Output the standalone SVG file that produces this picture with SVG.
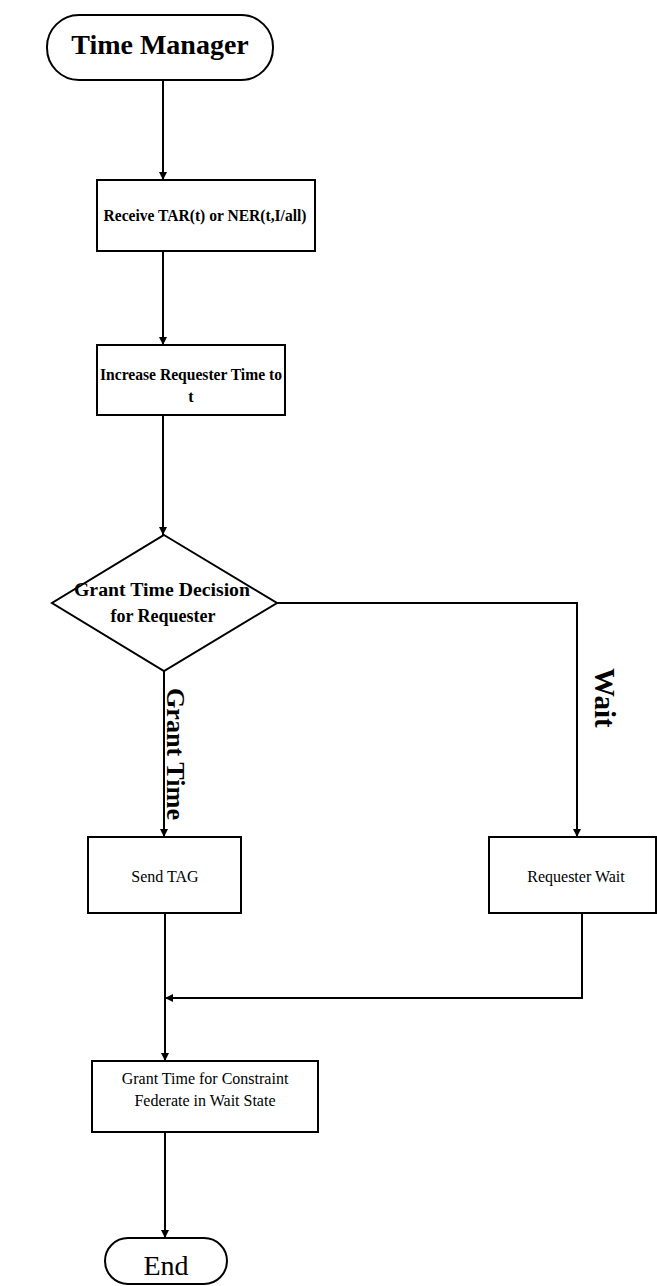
<svg xmlns="http://www.w3.org/2000/svg" width="657" height="1286" viewBox="0 0 657 1286">
  <style>
    .shape { fill: #ffffff; stroke: #000000; stroke-width: 2; }
    .wire { fill: none; stroke: #000000; stroke-width: 2; }
    .t { font-family: "Liberation Serif", "Times New Roman", serif; fill: #000000; text-anchor: middle; }
    .big { font-size: 28px; font-weight: bold; }
    .mid { font-size: 16px; font-weight: bold; }
    .plain { font-size: 16px; }
    .lbl { font-family: "Liberation Serif", "Times New Roman", serif; fill: #000000; font-weight: bold; }
  </style>
  <defs>
    <marker id="arrow" viewBox="0 0 10 10" refX="10" refY="5" markerWidth="8" markerHeight="9" orient="auto" markerUnits="userSpaceOnUse">
      <path d="M0,0 L10,5 L0,10 z" fill="#000000"/>
    </marker>
  </defs>
  <rect width="657" height="1286" fill="#ffffff"/>

  <!-- connectors -->
  <g id="connectors">
    <line class="wire" x1="163" y1="80" x2="163" y2="180" marker-end="url(#arrow)"/>
    <line class="wire" x1="163" y1="251" x2="163" y2="345" marker-end="url(#arrow)"/>
    <line class="wire" x1="163" y1="415" x2="163" y2="535" marker-end="url(#arrow)"/>
    <line class="wire" x1="164" y1="671" x2="164" y2="837" marker-end="url(#arrow)"/>
    <polyline class="wire" points="277,603 577,603 577,837" marker-end="url(#arrow)"/>
    <polyline class="wire" points="582,913 582,998 165,998" marker-end="url(#arrow)"/>
    <line class="wire" x1="165" y1="913" x2="165" y2="1061" marker-end="url(#arrow)"/>
    <line class="wire" x1="165" y1="1132" x2="165" y2="1238" marker-end="url(#arrow)"/>
    <text class="lbl" font-size="25" transform="translate(167,688) rotate(90)" textLength="132" lengthAdjust="spacingAndGlyphs">Grant Time</text>
    <text class="lbl" font-size="29" transform="translate(595,668) rotate(90)">Wait</text>
  </g>

  <g id="start">
    <rect class="shape" x="47" y="15" width="226" height="65" rx="32" ry="32"/>
    <text class="t big" x="160" y="54">Time Manager</text>
  </g>

  <g id="receive">
    <rect class="shape" x="97" y="180" width="218" height="71"/>
    <text class="t mid" x="205" y="221" textLength="203" lengthAdjust="spacingAndGlyphs">Receive TAR(t) or NER(t,I/all)</text>
  </g>

  <g id="increase">
    <rect class="shape" x="97" y="345" width="188" height="70"/>
    <text class="t mid" x="191" y="380" textLength="182" lengthAdjust="spacingAndGlyphs">Increase Requester Time to</text>
    <text class="t mid" x="191" y="402">t</text>
  </g>

  <g id="decision">
    <polygon class="shape" points="164,535 277,603 164,671 52,603"/>
    <text class="t" font-size="18" font-weight="bold" x="162" y="596" textLength="176" lengthAdjust="spacingAndGlyphs">Grant Time Decision</text>
    <text class="t" font-size="18" font-weight="bold" x="163" y="622">for Requester</text>
  </g>

  <g id="send-tag">
    <rect class="shape" x="88" y="837" width="153" height="76"/>
    <text class="t plain" x="165" y="882">Send TAG</text>
  </g>

  <g id="requester-wait">
    <rect class="shape" x="489" y="837" width="167" height="76"/>
    <text class="t plain" x="576" y="882">Requester Wait</text>
  </g>

  <g id="grant-constraint">
    <rect class="shape" x="92" y="1061" width="226" height="71"/>
    <text class="t plain" x="205" y="1084">Grant Time for Constraint</text>
    <text class="t plain" x="205" y="1106">Federate in Wait State</text>
  </g>

  <g id="end">
    <rect class="shape" x="105" y="1238" width="122" height="46" rx="23" ry="23"/>
    <text class="t" font-size="28" x="166" y="1275">End</text>
  </g>
</svg>
